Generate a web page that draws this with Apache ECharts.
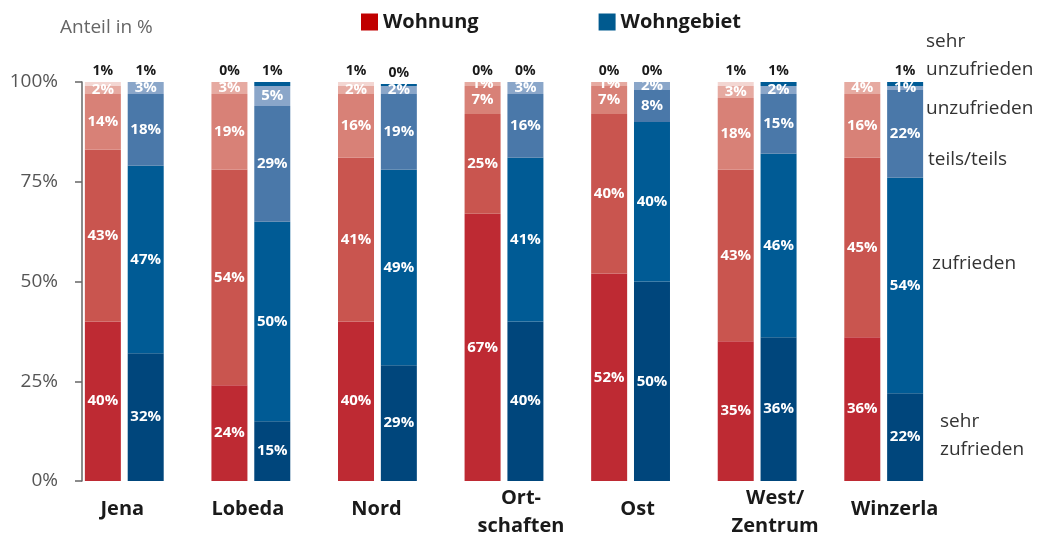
<!DOCTYPE html>
<html>
<head>
<meta charset="utf-8">
<script src="https://cdn.jsdelivr.net/npm/echarts@6/dist/echarts.min.js"></script>
<style>
  html, body { margin: 0; padding: 0; background: #fff; }
  #chart { width: 1044px; height: 535px; }
</style>
</head>
<body>
<div id="chart"></div>
<script>
var myChart = echarts.init(document.getElementById('chart'), null, { renderer: 'canvas' });

var categories = ['Jena', 'Lobeda', 'Nord', 'Ort-\nschaften', 'Ost', 'West/\nZentrum', 'Winzerla'];
var levels = ['sehr zufrieden', 'zufrieden', 'teils/teils', 'unzufrieden', 'sehr unzufrieden'];

// Wohnung (rot), je Stufe von unten nach oben
var wohnungSehrZufrieden = [40, 24, 40, 67, 52, 35, 36];
var wohnungZufrieden     = [43, 54, 41, 25, 40, 43, 45];
var wohnungTeils         = [14, 19, 16, 7, 7, 18, 16];
var wohnungUnzufrieden   = [2, 3, 2, 1, 1, 3, 4];
var wohnungSehrUnzufr    = [1, 0, 1, 0, 0, 1, 0];

// Wohngebiet (blau)
var gebietSehrZufrieden = [32, 15, 29, 40, 50, 36, 22];
var gebietZufrieden     = [47, 50, 49, 41, 40, 46, 54];
var gebietTeils         = [18, 29, 19, 16, 8, 15, 22];
var gebietUnzufrieden   = [3, 5, 2, 3, 2, 2, 1];
var gebietSehrUnzufr    = [1, 1, 0, 0, 0, 1, 1];

var yTicks = [0, 25, 50, 75, 100];

var redColors = ['#be2a33', '#c9554f', '#d88177', '#e6aaa1', '#f3d6d2'];
var blueColors = ['#00467c', '#005b95', '#4a78a9', '#8aa6c9', '#005b95'];
var fontFamily = '"Open Sans", "Noto Sans", sans-serif';

// kleine Verschiebung der Achsenbeschriftung (px nach rechts)
var labelShift = [-2, -3, -1, 17, 7, 18, 11];

var wohnung = [wohnungSehrZufrieden, wohnungZufrieden, wohnungTeils, wohnungUnzufrieden, wohnungSehrUnzufr];
var gebiet = [gebietSehrZufrieden, gebietZufrieden, gebietTeils, gebietUnzufrieden, gebietSehrUnzufr];

function makeSeries(name, stack, dataSets, colors) {
    return dataSets.map(function (d, i) {
        var top = i === dataSets.length - 1;
        return {
            name: name,
            type: 'bar',
            stack: stack,
            barWidth: 36,
            barGap: '19%',
            barMinHeight: top ? 2 : 0,
            data: d,
            itemStyle: { color: colors[i] },
            label: top ? {
                show: true,
                position: 'top',
                distance: 4,
                formatter: '{c}%',
                color: '#1a1a1a',
                fontWeight: 'bold',
                fontSize: 14,
                fontFamily: fontFamily
            } : {
                show: true,
                position: 'inside',
                formatter: '{c}%',
                color: '#fff',
                fontWeight: 'bold',
                fontSize: 15,
                fontFamily: fontFamily
            },
            emphasis: { disabled: true }
        };
    });
}

var series = makeSeries('Wohnung', 'W', wohnung, redColors)
    .concat(makeSeries('Wohngebiet', 'G', gebiet, blueColors));

var sideLabels = [
    { text: 'sehr\nunzufrieden', x: 926, y: 28 },
    { text: 'unzufrieden', x: 926, y: 95 },
    { text: 'teils/teils', x: 928, y: 146 },
    { text: 'zufrieden', x: 932, y: 250 },
    { text: 'sehr\nzufrieden', x: 940, y: 408 }
];

var option = {
    backgroundColor: '#fff',
    animation: false,
    legend: {
        left: 356,
        top: 7,
        itemWidth: 17,
        itemHeight: 17,
        itemGap: 120,
        icon: 'rect',
        selectedMode: false,
        textStyle: { color: '#1a1a1a', fontSize: 20, fontWeight: 'bold', fontFamily: fontFamily },
        data: [
            { name: 'Wohnung', itemStyle: { color: '#c00000' } },
            { name: 'Wohngebiet', itemStyle: { color: '#005a8f' } }
        ]
    },
    grid: {
        left: 61,
        right: 97,
        top: 82,
        bottom: 54,
        containLabel: false,
        outerBoundsMode: 'none'
    },
    xAxis: {
        type: 'category',
        data: categories.map(function (c, i) {
            var s = labelShift[i];
            var padTop = c.indexOf('\n') >= 0 ? 0 : 11;
            return {
                value: c,
                textStyle: { padding: s >= 0 ? [padTop, 0, 0, 2 * s] : [padTop, -2 * s, 0, 0] }
            };
        }),
        axisLine: { show: false },
        axisTick: { show: false },
        axisLabel: {
            interval: 0,
            margin: 3,
            lineHeight: 28,
            color: '#1a1a1a',
            fontSize: 20,
            fontWeight: 'bold',
            fontFamily: fontFamily
        }
    },
    yAxis: {
        type: 'value',
        min: 0,
        max: 100,
        interval: 25,
        offset: -21,
        axisLine: { show: true, lineStyle: { color: '#666', width: 1.5 } },
        axisTick: { show: true, length: 7, lineStyle: { color: '#666', width: 1.5 } },
        splitLine: { show: false },
        axisLabel: {
            margin: 24,
            formatter: function (v) { return yTicks.indexOf(v) >= 0 ? v + '%' : ''; },
            color: '#555',
            fontSize: 19,
            fontFamily: fontFamily
        }
    },
    graphic: [{
        type: 'text',
        left: 60,
        top: 18,
        style: { text: 'Anteil in %', fill: '#666', font: '19px ' + fontFamily }
    }].concat(sideLabels.map(function (l) {
        return {
            type: 'text',
            left: l.x,
            top: l.y,
            style: { text: l.text, fill: '#333', font: '19px ' + fontFamily, lineHeight: 28 }
        };
    })),
    series: series
};

myChart.setOption(option);
window.addEventListener('resize', myChart.resize);
</script>
</body>
</html>
